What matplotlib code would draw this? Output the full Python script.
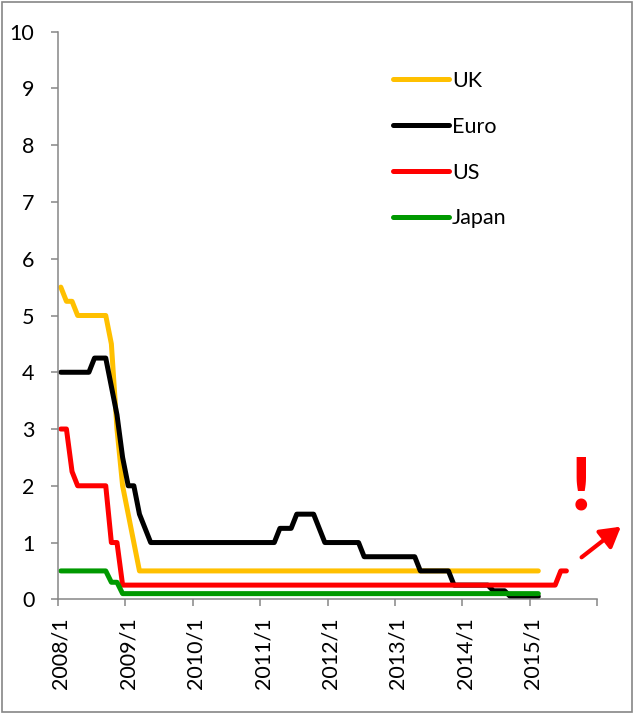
"""Policy rates 2008-2015: UK / Euro / US / Japan"""
import numpy as np
import matplotlib
matplotlib.use("Agg")
import matplotlib.pyplot as plt
from matplotlib.patches import Rectangle

# ── data (monthly, starting 2008/1) ──
uk = [5.5, 5.25, 5.25, 5.0, 5.0, 5.0, 5.0, 5.0, 5.0, 4.5, 3.0, 2.0,
      1.5, 1.0, 0.5, 0.5, 0.5, 0.5, 0.5, 0.5, 0.5, 0.5, 0.5, 0.5,
      0.5, 0.5, 0.5, 0.5, 0.5, 0.5, 0.5, 0.5, 0.5, 0.5, 0.5, 0.5,
      0.5, 0.5, 0.5, 0.5, 0.5, 0.5, 0.5, 0.5, 0.5, 0.5, 0.5, 0.5,
      0.5, 0.5, 0.5, 0.5, 0.5, 0.5, 0.5, 0.5, 0.5, 0.5, 0.5, 0.5,
      0.5, 0.5, 0.5, 0.5, 0.5, 0.5, 0.5, 0.5, 0.5, 0.5, 0.5, 0.5,
      0.5, 0.5, 0.5, 0.5, 0.5, 0.5, 0.5, 0.5, 0.5, 0.5, 0.5, 0.5,
      0.5, 0.5]
euro = [4.0, 4.0, 4.0, 4.0, 4.0, 4.0, 4.25, 4.25, 4.25, 3.75, 3.25, 2.5,
        2.0, 2.0, 1.5, 1.25, 1.0, 1.0, 1.0, 1.0, 1.0, 1.0, 1.0, 1.0,
        1.0, 1.0, 1.0, 1.0, 1.0, 1.0, 1.0, 1.0, 1.0, 1.0, 1.0, 1.0,
        1.0, 1.0, 1.0, 1.25, 1.25, 1.25, 1.5, 1.5, 1.5, 1.5, 1.25, 1.0,
        1.0, 1.0, 1.0, 1.0, 1.0, 1.0, 0.75, 0.75, 0.75, 0.75, 0.75, 0.75,
        0.75, 0.75, 0.75, 0.75, 0.5, 0.5, 0.5, 0.5, 0.5, 0.5, 0.25, 0.25,
        0.25, 0.25, 0.25, 0.25, 0.25, 0.15, 0.15, 0.15, 0.05, 0.05, 0.05, 0.05,
        0.05, 0.05]
us = [3.0, 3.0, 2.25, 2.0, 2.0, 2.0, 2.0, 2.0, 2.0, 1.0, 1.0, 0.25,
      0.25, 0.25, 0.25, 0.25, 0.25, 0.25, 0.25, 0.25, 0.25, 0.25, 0.25, 0.25,
      0.25, 0.25, 0.25, 0.25, 0.25, 0.25, 0.25, 0.25, 0.25, 0.25, 0.25, 0.25,
      0.25, 0.25, 0.25, 0.25, 0.25, 0.25, 0.25, 0.25, 0.25, 0.25, 0.25, 0.25,
      0.25, 0.25, 0.25, 0.25, 0.25, 0.25, 0.25, 0.25, 0.25, 0.25, 0.25, 0.25,
      0.25, 0.25, 0.25, 0.25, 0.25, 0.25, 0.25, 0.25, 0.25, 0.25, 0.25, 0.25,
      0.25, 0.25, 0.25, 0.25, 0.25, 0.25, 0.25, 0.25, 0.25, 0.25, 0.25, 0.25,
      0.25, 0.25, 0.25, 0.25, 0.25, 0.5, 0.5]
japan = [0.5, 0.5, 0.5, 0.5, 0.5, 0.5, 0.5, 0.5, 0.5, 0.3, 0.3, 0.1,
         0.1, 0.1, 0.1, 0.1, 0.1, 0.1, 0.1, 0.1, 0.1, 0.1, 0.1, 0.1,
         0.1, 0.1, 0.1, 0.1, 0.1, 0.1, 0.1, 0.1, 0.1, 0.1, 0.1, 0.1,
         0.1, 0.1, 0.1, 0.1, 0.1, 0.1, 0.1, 0.1, 0.1, 0.1, 0.1, 0.1,
         0.1, 0.1, 0.1, 0.1, 0.1, 0.1, 0.1, 0.1, 0.1, 0.1, 0.1, 0.1,
         0.1, 0.1, 0.1, 0.1, 0.1, 0.1, 0.1, 0.1, 0.1, 0.1, 0.1, 0.1,
         0.1, 0.1, 0.1, 0.1, 0.1, 0.1, 0.1, 0.1, 0.1, 0.1, 0.1, 0.1,
         0.1, 0.1]
year_labels = ["2008/1", "2009/1", "2010/1", "2011/1", "2012/1", "2013/1", "2014/1", "2015/1"]
n_months = 96

series = [("UK", uk, "#FFC000"), ("Euro", euro, "#000000"),
          ("US", us, "#FF0000"), ("Japan", japan, "#009900")]

plt.rcParams["font.family"] = ["Lato", "DejaVu Sans"]
grey = "#868686"

fig = plt.figure(figsize=(6.34, 7.14), dpi=100)
ax = fig.add_axes([58 / 634, 1 - 599.3 / 714, (597.3 - 58) / 634, (599.3 - 31.7) / 714])

for name, vals, col in series:
    x = np.arange(len(vals)) + 0.5   # Excel: points centred in category
    ax.plot(x, vals, color=col, lw=3.6, label=name,
            solid_capstyle="round", solid_joinstyle="round")

ax.set_xlim(0, n_months)
ax.set_ylim(0, 10)

# x axis: labels centred on categories, tick marks between
ax.set_xticks(np.arange(len(year_labels)) * 12 + 0.5)
ax.set_xticklabels(year_labels, rotation=90, fontsize=15.5)
ax.set_xticks(np.arange(0, n_months + 1, 12), minor=True)
ax.tick_params(axis="x", which="major", length=0, pad=13)
ax.tick_params(axis="x", which="minor", length=5, width=1.1, color=grey)

ax.set_yticks(np.arange(0, 11, 1))
ax.tick_params(axis="y", length=5, width=1.1, color=grey, pad=12, labelsize=15.5)

for s in ["top", "right"]:
    ax.spines[s].set_visible(False)
for s in ["left", "bottom"]:
    ax.spines[s].set_color(grey)
    ax.spines[s].set_linewidth(1.1)

leg = ax.legend(loc="upper left", bbox_to_anchor=(0.621, 0.931), frameon=False,
                fontsize=15.5, handlelength=2.6, handletextpad=0.15,
                labelspacing=1.2, borderpad=0, borderaxespad=0)
for h in leg.get_lines():
    h.set_solid_capstyle("round")

# forecast mark
ax.text(93.0, 1.59, "!", color="#FF0000", fontsize=52, fontweight="black",
        ha="center", va="baseline", clip_on=False)
ax.annotate("", xy=(100.2, 1.28), xytext=(93.2, 0.74), annotation_clip=False,
            arrowprops=dict(arrowstyle="-|>,head_length=0.6,head_width=0.35",
                            color="#FF0000", lw=3, mutation_scale=20,
                            shrinkA=0, shrinkB=0))

# chart border
fig.patches.append(Rectangle((2 / 634, 2 / 714), 630 / 634, 710 / 714,
                             transform=fig.transFigure, fill=False,
                             edgecolor=grey, lw=1.2))

plt.savefig("out.png", dpi=100, facecolor="white")
plt.close()
